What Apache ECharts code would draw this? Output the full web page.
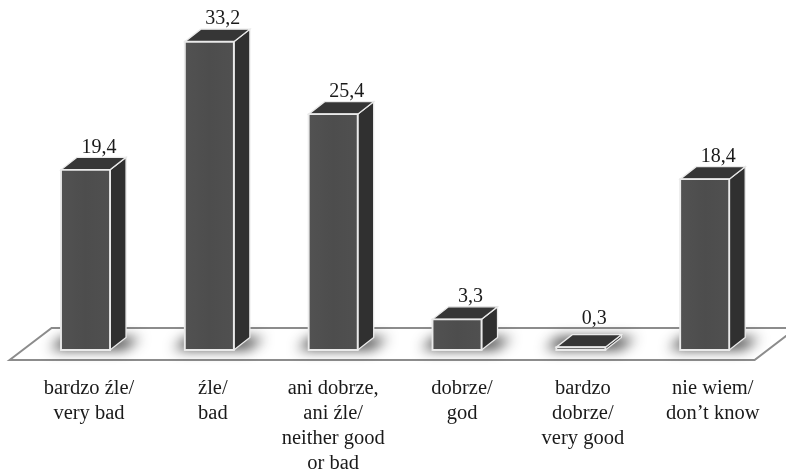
<!DOCTYPE html>
<html>
<head>
<meta charset="utf-8">
<style>html,body{margin:0;padding:0;background:#fff}#c{width:786px;height:470px}</style>
<script src="https://cdn.jsdelivr.net/npm/echarts@6/dist/echarts.min.js"></script>
</head>
<body>
<div id="c"></div>
<script>
const categories = [
  'bardzo źle/\nvery bad',
  'źle/\nbad',
  'ani dobrze,\nani źle/\nneither good\nor bad',
  'dobrze/\ngod',
  'bardzo\ndobrze/\nvery good',
  'nie wiem/\ndon’t know'
];
const values = [19.4, 33.2, 25.4, 3.3, 0.3, 18.4];
const yMax = 35;
const FONT = '"Liberation Serif"';

const chart = echarts.init(document.getElementById('c'), null, {renderer: 'canvas'});

const dx = 16, dy = -12.5, edge = '#eaeaea', OFF = 2000;
const labelPadLeft = [7, 7, 0, 10, 4, 16];

function renderFloor(params, api) {
  const cs = params.coordSys;
  const yb = cs.y + cs.height + 10;
  const yt = yb - 32;
  return {
    type: 'polygon',
    shape: {points: [[cs.x - 14, yb], [cs.x + 28, yt], [cs.x + cs.width + 30, yt], [cs.x + cs.width - 12, yb]]},
    style: {fill: '#ffffff', stroke: '#8c8c8c', lineWidth: 2}
  };
}

function renderBar(params, api) {
  const v = api.value(1);
  const base = api.coord([api.value(0), 0]);
  const top = api.coord([api.value(0), v]);
  const w = api.size([1, 0])[0] * 0.396;
  const l = base[0] - w / 2, r = base[0] + w / 2, b = base[1], t = top[1];
  const shadow = {
    type: 'polygon',
    shape: {points: [[l - 11 - OFF, b - 1], [r + 14 - OFF, b - 1], [r + 30 - OFF, b - 12], [l + 2 - OFF, b - 12]]},
    style: {fill: '#000', shadowBlur: 13, shadowOffsetX: OFF, shadowColor: 'rgba(45,45,45,1)'}
  };
  const front = {
    type: 'polygon',
    shape: {points: [[l, b], [r, b], [r, t], [l, t]]},
    style: {
      fill: new echarts.graphic.LinearGradient(0, 0, 1, 0, [
        {offset: 0, color: '#525252'}, {offset: 0.5, color: '#4d4d4d'}, {offset: 1, color: '#505050'}
      ]),
      stroke: edge, lineWidth: 1.9
    }
  };
  const side = {
    type: 'polygon',
    shape: {points: [[r, b], [r + dx, b + dy], [r + dx, t + dy], [r, t]]},
    style: {fill: '#303030', stroke: edge, lineWidth: 1.3}
  };
  const roof = {
    type: 'polygon',
    shape: {points: [[l, t], [r, t], [r + dx, t + dy], [l + dx, t + dy]]},
    style: {fill: '#363636', stroke: edge, lineWidth: 1.3}
  };
  const label = {
    type: 'text',
    style: {
      x: base[0] + 13.5, y: Math.min(t - 22.5, b - 31),
      text: String(v).replace('.', ','),
      fill: '#1a1a1a', font: '20px ' + FONT,
      textAlign: 'center', textVerticalAlign: 'middle'
    }
  };
  return {type: 'group', children: [shadow, side, roof, front, label]};
}

chart.setOption({
  animation: false,
  backgroundColor: '#ffffff',
  grid: {left: 23.6, right: 19.4, top: 25, bottom: 120, outerBoundsMode: 'none'},
  xAxis: {
    type: 'category',
    data: categories.map((c, i) => ({value: c, textStyle: {padding: [0, 0, 0, labelPadLeft[i]]}})),
    axisLine: {show: false},
    axisTick: {show: false},
    axisLabel: {
      interval: 0, margin: 26.5, color: '#1a1a1a',
      fontFamily: FONT, fontSize: 20.5, lineHeight: 25
    }
  },
  yAxis: {type: 'value', min: 0, max: yMax, show: false, splitLine: {show: false}},
  series: [
    {type: 'custom', clip: false, silent: true, z: 1, renderItem: renderFloor, data: [[0, 0]], encode: {x: 0, y: 1}},
    {type: 'custom', clip: false, silent: true, z: 2, renderItem: renderBar,
     data: values.map((v, i) => [i, v]), encode: {x: 0, y: 1}}
  ]
});
</script>
</body>
</html>
